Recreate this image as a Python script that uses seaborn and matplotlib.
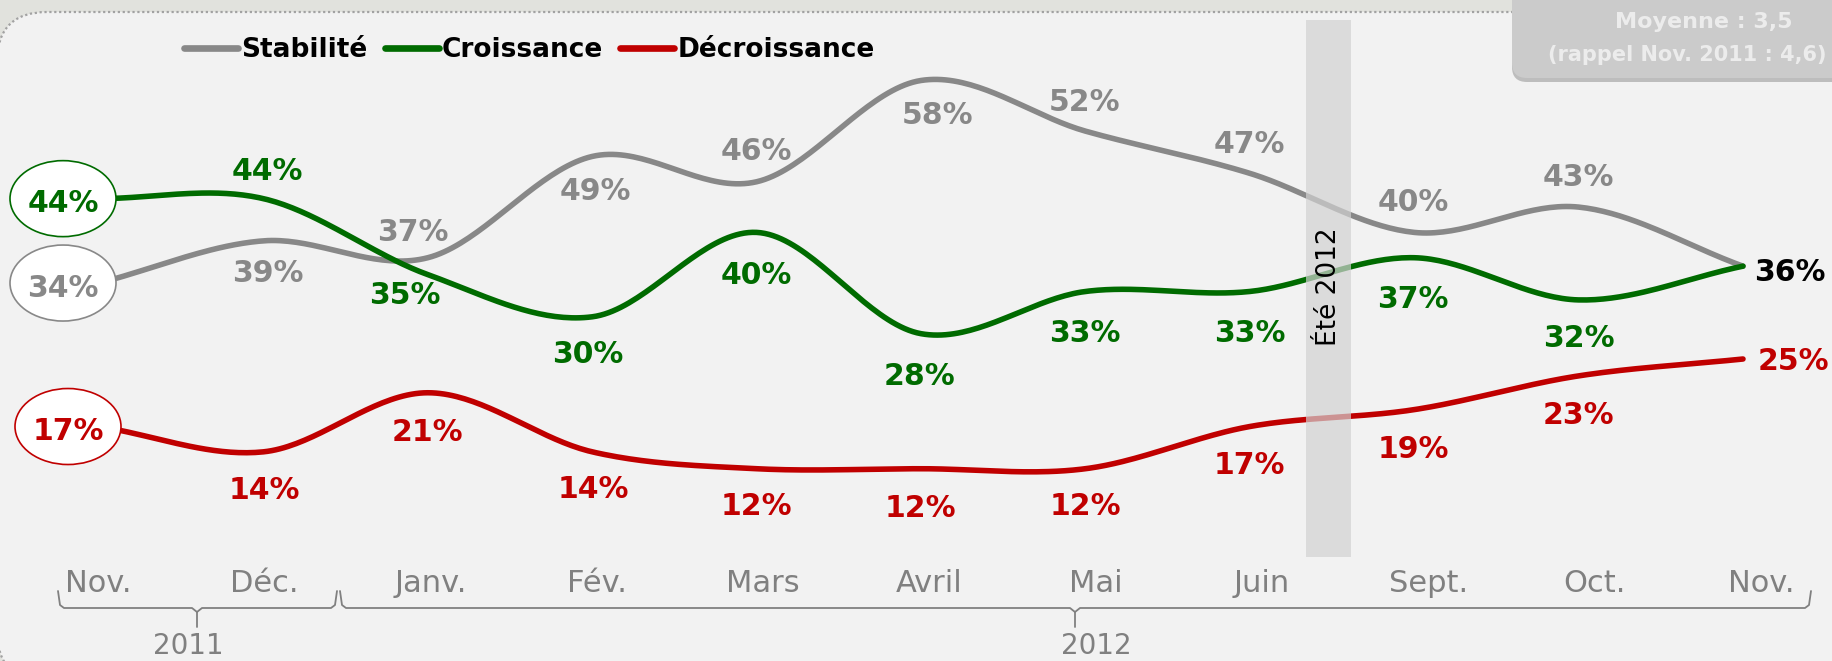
import numpy as np
import pandas as pd
import matplotlib
matplotlib.use("Agg")
import matplotlib.pyplot as plt
import seaborn as sns
from matplotlib.patches import Ellipse, FancyBboxPatch

# === Data ===
months = ['Nov.', 'Déc.', 'Janv.', 'Fév.', 'Mars', 'Avril', 'Mai', 'Juin', 'Sept.', 'Oct.', 'Nov.']
years = ['2011', '2012']
series_names = ['Stabilité', 'Croissance', 'Décroissance']
stabilite = [34, 39, 37, 49, 46, 58, 52, 47, 40, 43, 36]
croissance = [44, 44, 35, 30, 40, 28, 33, 33, 37, 32, 36]
decroissance = [17, 14, 21, 14, 12, 12, 12, 17, 19, 23, 25]
summer_label = 'Été 2012'
note_lines = ['Moyenne : 3,5', '(rappel Nov. 2011 : 4,6)']

# === Style ===
sns.set_theme(style="white")
plt.rcParams['font.family'] = ['DejaVu Sans']
colors = {'Stabilité': '#888888', 'Croissance': '#006b00', 'Décroissance': '#c00000'}
tick_grey = '#808080'

W, H = 1832, 661
X0_PX, STEP_PX = 99, 164.4      # pixel position of first month, spacing
Y0_PX, PX_PER_PCT = 570, 8.44   # pixel row of 0 %, pixels per %


def px2x(px):
    return (px - X0_PX) / STEP_PX


def px2y(py):
    return (Y0_PX - py) / PX_PER_PCT


def smooth(vals, n=40):
    # Excel-like smoothed line (cubic Hermite / Catmull-Rom through the points)
    p = np.asarray(vals, float)
    m = np.empty_like(p)
    m[1:-1] = (p[2:] - p[:-2]) / 2
    m[0] = p[1] - p[0]
    m[-1] = p[-1] - p[-2]
    xs, ys = [], []
    t = np.linspace(0, 1, n, endpoint=False)
    h00 = 2 * t**3 - 3 * t**2 + 1
    h10 = t**3 - 2 * t**2 + t
    h01 = -2 * t**3 + 3 * t**2
    h11 = t**3 - t**2
    for i in range(len(p) - 1):
        xs.append(i + t)
        ys.append(h00 * p[i] + h10 * m[i] + h01 * p[i + 1] + h11 * m[i + 1])
    xs.append([len(p) - 1])
    ys.append([p[-1]])
    return np.concatenate(xs), np.concatenate(ys)


values = {'Stabilité': stabilite, 'Croissance': croissance, 'Décroissance': decroissance}
frames = []
for name in series_names:
    sx, sy = smooth(values[name])
    frames.append(pd.DataFrame({'x': sx, 'pct': sy, 'serie': name}))
df = pd.concat(frames, ignore_index=True)

# === Figure ===
fig = plt.figure(figsize=(W / 100, H / 100), dpi=100)
fig.patch.set_facecolor('#e1e2dd')

# background panel with dotted border
panel = FancyBboxPatch((-0.03, -0.2), 19.0, 6.49 + 0.2,
                       boxstyle='round,pad=0,rounding_size=0.5',
                       transform=fig.dpi_scale_trans, facecolor='#f2f2f2',
                       edgecolor='#a2a2a2', linewidth=1.6, linestyle=(0, (1, 1.2)),
                       zorder=-10)
fig.add_artist(panel)

ax = fig.add_axes([0, 0, 1, 1])
ax.patch.set_visible(False)
ax.set_xlim(px2x(0), px2x(W))
ax.set_ylim(px2y(H), px2y(0))

sns.lineplot(data=df, x='x', y='pct', hue='serie', hue_order=series_names,
             palette=colors, linewidth=4.0, estimator=None, sort=False, ax=ax, zorder=2)

# summer break band
ax.axvspan(px2x(1306), px2x(1351), ymin=1 - 557 / H, ymax=1 - 20 / H,
           color='#d2d2d2', alpha=0.7, lw=0, zorder=3)
ax.text(px2x(1329), px2y(287), summer_label, rotation=90, ha='center', va='center',
        fontsize=19, color='black', zorder=4)

# === Data labels ===
label_fs = 21.5
offsets = {
    'Stabilité': [None, (4, 30), (-15, -28), (3, 32), (0, -33), (17, 32), (-1, -32),
                  (0, -32), (-1, -33), (0, -33), (47, 3)],
    'Croissance': [None, (4, -30), (-23, 18), (-4, 35), (0, 40), (-1, 40), (-1, 39),
                   (0, 39), (-1, 39), (0, 36), None],
    'Décroissance': [None, (1, 36), (0, 37), (1, 35), (0, 35), (-1, 37), (0, 35),
                     (0, 36), (-1, 37), (0, 37), (50, 0)],
}
ellipse_cx = {'Stabilité': 63, 'Croissance': 63, 'Décroissance': 68}

for name in series_names:
    vals = values[name]
    col = colors[name]
    for i, v in enumerate(vals):
        off = offsets[name][i]
        if off is None:
            continue
        c = 'black' if (name == 'Stabilité' and i == len(vals) - 1) else col
        ax.annotate(f'{v}%', (i, v), xytext=(off[0], -off[1] - 3), textcoords='offset pixels',
                    ha='center', va='center', fontsize=label_fs, fontweight='bold',
                    color=c, zorder=6)
    # first value circled
    cx = px2x(ellipse_cx[name])
    ax.add_patch(Ellipse((cx, vals[0]), width=106 / STEP_PX, height=76 / PX_PER_PCT,
                         facecolor='white', edgecolor=col, linewidth=1.2, zorder=5))
    ax.annotate(f'{vals[0]}%', (cx, vals[0]), xytext=(0, -5), textcoords='offset pixels',
                ha='center', va='center', fontsize=label_fs, fontweight='bold',
                color=col, zorder=6)

# === Month axis ===
for s in ax.spines.values():
    s.set_visible(False)
ax.spines['bottom'].set_position(('data', px2y(568)))
tick_pos = [px2x(98 + 166.3 * i) for i in range(len(months))]
ax.set_xticks(tick_pos, labels=months)
ax.set_yticks([])
ax.tick_params(axis='x', length=0, pad=1, labelsize=22, labelcolor=tick_grey)
ax.set_xlabel('')
ax.set_ylabel('')

# year braces
brace_px = [(58, 337, 197), (340, 1811, 1075)]
year_x_px = [188, 1096]
for (l, r, m), yr, yx in zip(brace_px, years, year_x_px):
    bx = [l, l + 2, l + 6, m - 5, m, m + 5, r - 6, r - 2, r]
    by = [591, 605, 608, 608, 612, 608, 608, 605, 591]
    ax.plot([px2x(p) for p in bx], [px2y(p) for p in by], color=tick_grey, lw=1.3,
            solid_capstyle='round', zorder=4)
    ax.plot([px2x(m), px2x(m)], [px2y(612), px2y(627)], color=tick_grey, lw=1.3, zorder=4)
    ax.text(px2x(yx), px2y(660), yr, ha='center', va='bottom', fontsize=20,
            color=tick_grey, zorder=4)

# === Legend ===
leg = ax.get_legend()
handles = leg.legend_handles
leg.remove()
new_leg = ax.legend(handles, series_names, loc='center left',
                    bbox_to_anchor=(184 / W, 1 - 50 / H), bbox_transform=fig.transFigure,
                    ncol=3, frameon=False, borderaxespad=0, borderpad=0,
                    handlelength=2.05, handletextpad=0.12, columnspacing=0.65,
                    prop={'weight': 'bold', 'size': 19})
for line in new_leg.get_lines():
    line.set_linewidth(4.8)
for txt in new_leg.get_texts():
    txt.set_color('black')

# === Top-right note box ===
shadow = FancyBboxPatch((15.12, 6.61 - 0.82), 3.8, 1.2,
                        boxstyle='round,pad=0,rounding_size=0.15',
                        transform=fig.dpi_scale_trans, facecolor='#9a9a9a',
                        edgecolor='none', alpha=0.6, zorder=9)
fig.add_artist(shadow)
box = FancyBboxPatch((15.12, 6.61 - 0.78), 3.8, 1.2,
                     boxstyle='round,pad=0,rounding_size=0.15',
                     transform=fig.dpi_scale_trans, facecolor='#cbcbcb',
                     edgecolor='none', zorder=10)
fig.add_artist(box)
fig.text(1704 / W, 1 - 22 / H, note_lines[0], ha='center', va='center', fontsize=16,
         fontweight='bold', color='#ececec', zorder=11)
fig.text(1687 / W, 1 - 55 / H, note_lines[1], ha='center', va='center', fontsize=15,
         fontweight='bold', color='#ececec', zorder=11)

fig.savefig('out.png', dpi=100, facecolor=fig.get_facecolor())
